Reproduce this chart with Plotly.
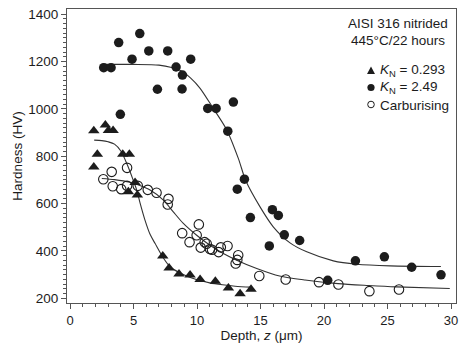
import plotly.graph_objects as go

# Measured hardness profiles, AISI 316 nitrided at 445°C for 22 hours
kn293_depth = [1.87, 1.87, 2.15, 2.78, 3.02, 3.39, 4.15, 4.67, 4.59, 5.12, 5.30,
               7.30, 7.80, 8.58, 9.45, 10.24, 11.44, 12.47, 13.39, 14.25]
kn293_hv = [908, 755, 808, 932, 909, 909, 808, 808, 650, 689, 636,
            379, 328, 302, 298, 279, 272, 243, 219, 238]

kn249_depth = [2.65, 3.23, 3.83, 3.96, 4.88, 5.49, 6.20, 6.88, 7.69, 8.35, 8.85,
               8.82, 9.50, 10.84, 11.50, 12.42, 12.86, 13.17, 13.73, 14.20, 15.69,
               15.93, 16.40, 16.87, 18.08, 20.29, 22.47, 24.75, 26.90, 29.21]
kn249_hv = [1174, 1174, 1280, 977, 1210, 1318, 1245, 1083, 1245, 1177, 1143,
            1084, 1210, 1002, 1002, 906, 1029, 661, 703, 541, 421,
            574, 550, 468, 444, 276, 358, 375, 331, 299]

carb_depth = [2.62, 3.28, 3.36, 4.03, 4.49, 4.49, 5.33, 6.12, 6.81, 7.75, 7.69,
              8.83, 9.41, 9.97, 10.14, 10.29, 10.60, 10.76, 11.02, 11.18, 11.70,
              11.87, 12.40, 13.04, 13.17, 13.24, 14.90, 16.98, 19.60, 21.13,
              23.57, 25.90]
carb_hv = [703, 734, 673, 661, 751, 675, 675, 658, 646, 620, 596,
           475, 437, 466, 512, 414, 437, 430, 408, 405, 395,
           415, 421, 347, 362, 382, 294, 279, 268, 258,
           230, 237]

# Fitted trend curves
kn293_fit_depth = [1.9, 2.5, 3.0, 3.5, 4.0, 4.5, 5.0, 5.25, 5.5, 5.9, 6.3, 6.7,
                   7.35, 7.9, 9.0, 10.0, 11.0, 12.0, 13.0, 14.3]
kn293_fit_hv = [868, 866, 861, 851, 822, 765, 695, 657, 605, 530, 470, 431,
                370, 332, 298, 278, 265, 257, 251, 247]

kn249_fit_depth = [2.5, 5.0, 7.0, 8.0, 8.7, 9.5, 10.24, 11.28, 12.34, 13.25,
                   13.85, 14.96, 16.0, 17.32, 18.64, 20.73, 22.57, 25.2, 29.2]
kn249_fit_hv = [1188, 1188, 1185, 1175, 1162, 1130, 1087, 1002, 911, 791,
                695, 586, 502, 434, 396, 358, 344, 337, 334]

carb_fit_depth = [2.5, 3.5, 4.7, 5.5, 6.3, 7.35, 8.13, 8.92, 9.97, 11.02, 12.07,
                  13.12, 14.7, 16.5, 18.5, 21.1, 23.5, 25.7, 29.9]
carb_fit_hv = [706, 701, 690, 676, 657, 615, 565, 516, 466, 424, 389,
               361, 326, 294, 277, 262, 254, 248, 241]

x_ticks = [0, 5, 10, 15, 20, 25, 30]
y_ticks = [200, 400, 600, 800, 1000, 1200, 1400]

INK = "#1c1c1c"
LINE = "#333333"
FONT = "Liberation Sans, Arial, sans-serif"

fig = go.Figure()

for xs, ys in [(kn293_fit_depth, kn293_fit_hv),
               (kn249_fit_depth, kn249_fit_hv),
               (carb_fit_depth, carb_fit_hv)]:
    fig.add_trace(go.Scatter(x=xs, y=ys, mode="lines",
                             line=dict(color=LINE, width=1.1, shape="spline", smoothing=0.8),
                             showlegend=False, hoverinfo="skip"))

fig.add_trace(go.Scatter(x=carb_depth, y=carb_hv, mode="markers", name="Carburising",
                         marker=dict(symbol="circle-open", size=9.5, color=INK,
                                     line=dict(width=1.1, color=INK)),
                         showlegend=False))
fig.add_trace(go.Scatter(x=kn293_depth, y=kn293_hv, mode="markers", name="K_N = 0.293",
                         marker=dict(symbol="triangle-up", size=10, color=INK),
                         showlegend=False))
fig.add_trace(go.Scatter(x=kn249_depth, y=kn249_hv, mode="markers", name="K_N = 2.49",
                         marker=dict(symbol="circle", size=9.5, color=INK),
                         showlegend=False))

W, H = 473, 345
ML, MR, MT, MB = 67, 17, 9, 42
PW, PH = W - ML - MR, H - MT - MB


def px(xp):
    return (xp - ML) / PW


def py(yp):
    return (H - MB - yp) / PH


annotations = [
    dict(text="AISI 316 nitrided", x=px(398), y=py(24), font=dict(size=13.5)),
    dict(text="445°C/22 hours", x=px(398), y=py(40.5), font=dict(size=13.5)),
    dict(text="<i>K</i><sub>N</sub> = 0.293", x=px(378), y=py(70), xanchor="left",
         font=dict(size=13.5)),
    dict(text="<i>K</i><sub>N</sub> = 2.49", x=px(378), y=py(87.5), xanchor="left",
         font=dict(size=13.5)),
    dict(text="Carburising", x=px(378), y=py(105), xanchor="left", font=dict(size=13.5)),
]
for a in annotations:
    a.setdefault("xanchor", "center")
    a.update(xref="paper", yref="paper", yanchor="middle", showarrow=False)
    a["font"].update(family=FONT, color=INK)

# Key symbols, sized in pixels around an anchor point on the paper
key_common = dict(xref="paper", yref="paper", xsizemode="pixel", ysizemode="pixel")
shapes = [
    dict(type="path", xanchor=px(371), yanchor=py(70.5), path="M -4 -3.5 L 4 -3.5 L 0 4 Z",
         fillcolor=INK, line=dict(width=0), **key_common),
    dict(type="circle", xanchor=px(371), yanchor=py(87.5), x0=-3.6, x1=3.6, y0=-3.6, y1=3.6,
         fillcolor=INK, line=dict(width=0), **key_common),
    dict(type="circle", xanchor=px(371), yanchor=py(104.5), x0=-3.3, x1=3.3, y0=-3.3, y1=3.3,
         fillcolor="white", line=dict(width=1, color=INK), **key_common),
]

fig.update_layout(
    width=W, height=H,
    margin=dict(l=ML, r=MR, t=MT, b=MB, pad=0, autoexpand=False),
    paper_bgcolor="white", plot_bgcolor="white",
    font=dict(family=FONT, color=INK, size=13),
    annotations=annotations,
    shapes=shapes,
    showlegend=False,
)
fig.update_xaxes(
    range=[-0.24, 30.39], tickvals=x_ticks, ticktext=[str(v) for v in x_ticks],
    showgrid=False, zeroline=False, showline=True, mirror=True, automargin=False,
    linecolor="#555", linewidth=1, ticks="outside", ticklen=5, tickcolor="#555",
    tickfont=dict(size=13, family=FONT, color=INK),
    minor=dict(tickvals=[v for v in range(0, 31) if v % 5], ticks="outside",
               ticklen=3, tickcolor="#555"),
    title=dict(text="Depth, <i>z</i> (μm)", standoff=3,
               font=dict(size=13.5, family=FONT, color=INK)),
)
fig.update_yaxes(
    range=[180, 1422], tickvals=y_ticks, ticktext=[str(v) for v in y_ticks],
    showgrid=False, zeroline=False, showline=True, mirror=True, automargin=False,
    linecolor="#555", linewidth=1, ticks="outside", ticklen=5, tickcolor="#555",
    tickfont=dict(size=13.5, family=FONT, color=INK),
    minor=dict(tickvals=[v for v in range(200, 1420, 20) if v % 200], ticks="outside",
               ticklen=3, tickcolor="#555"),
    title=dict(text="Hardness (HV)", standoff=2,
               font=dict(size=13.5, family=FONT, color=INK)),
)

fig.write_html("out.html")
